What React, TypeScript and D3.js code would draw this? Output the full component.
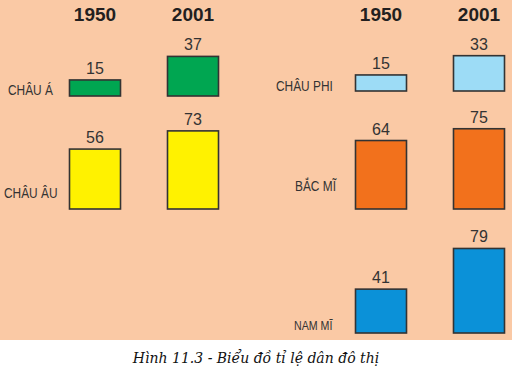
import { useEffect, useRef } from 'react';
import * as d3 from 'd3';

// Tỉ lệ dân đô thị (%)
const years = ['1950', '2001'];
const regions = ['CHÂU Á', 'CHÂU ÂU', 'CHÂU PHI', 'BẮC MĨ', 'NAM MĨ'];
const rate1950 = [15, 56, 15, 64, 41];
const rate2001 = [37, 73, 33, 75, 79];
const barColors = ['#00a651', '#fff200', '#9ddcf6', '#f2711c', '#0b91d8'];
const caption = 'Hình 11.3 - Biểu đồ tỉ lệ dân đô thị';

// panel each region sits in, and where its row baseline / label go
const panelOf = [0, 0, 1, 1, 1];
const rowBase = [96, 209, 91, 209, 333];
const labelX = [8, 4, 276, 295, 294];
const labelY = [95, 198, 91, 191, 330];

export default function App() {
  const svgRef = useRef<SVGSVGElement>(null);

  useEffect(() => {
    if (!svgRef.current) return;
    const width = 512;
    const height = 369;

    d3.select(svgRef.current).selectAll('*').remove();
    const svg = d3.select(svgRef.current)
      .attr('width', width)
      .attr('height', height);

    svg.append('rect')
      .attr('width', width)
      .attr('height', 340)
      .attr('fill', '#fac9a5');

    // one x scale per panel
    const xPanels = [
      d3.scalePoint<string>().domain(years).range([95, 193]),
      d3.scalePoint<string>().domain(years).range([381, 479]),
    ];
    const barW = 51;
    const h = d3.scaleLinear().domain([0, 100]).range([0, 107]);

    // year headers
    xPanels.forEach(x => {
      svg.selectAll(null)
        .data(years)
        .enter()
        .append('text')
        .attr('x', d => x(d)!)
        .attr('y', 21)
        .attr('text-anchor', 'middle')
        .attr('font-family', 'Liberation Sans, Arial, sans-serif')
        .attr('font-weight', 'bold')
        .attr('font-size', 19)
        .attr('fill', '#231f20')
        .text(d => d);
    });

    regions.forEach((name, i) => {
      const x = xPanels[panelOf[i]];
      const vals = [rate1950[i], rate2001[i]];
      const g = svg.append('g');

      g.selectAll('rect')
        .data(vals)
        .enter()
        .append('rect')
        .attr('x', (_, j) => x(years[j])! - barW / 2)
        .attr('y', d => rowBase[i] - h(d))
        .attr('width', barW)
        .attr('height', d => h(d))
        .attr('fill', barColors[i])
        .attr('stroke', '#333')
        .attr('stroke-width', 1.6);

      g.selectAll('text.val')
        .data(vals)
        .enter()
        .append('text')
        .attr('class', 'val')
        .attr('x', (_, j) => x(years[j])!)
        .attr('y', d => rowBase[i] - h(d) - 6)
        .attr('text-anchor', 'middle')
        .attr('font-family', 'Liberation Sans, Arial, sans-serif')
        .attr('font-size', 16)
        .attr('fill', '#333')
        .text(d => d);

      // condensed region label
      g.append('text')
        .attr('transform', `translate(${labelX[i]},${labelY[i]}) scale(0.82,1)`)
        .attr('font-family', 'Liberation Sans, Arial, sans-serif')
        .attr('font-size', i === 4 ? 13 : 14.5)
        .attr('fill', '#333')
        .text(name);
    });

    svg.append('text')
      .attr('x', 256)
      .attr('y', 363)
      .attr('text-anchor', 'middle')
      .attr('font-family', 'DejaVu Serif, serif')
      .attr('font-style', 'italic')
      .attr('font-size', 14)
      .attr('fill', '#111')
      .text(caption);
  }, []);

  return (
    <svg ref={svgRef} style={{ position: 'absolute', left: 0, top: 0 }}></svg>
  );
}
